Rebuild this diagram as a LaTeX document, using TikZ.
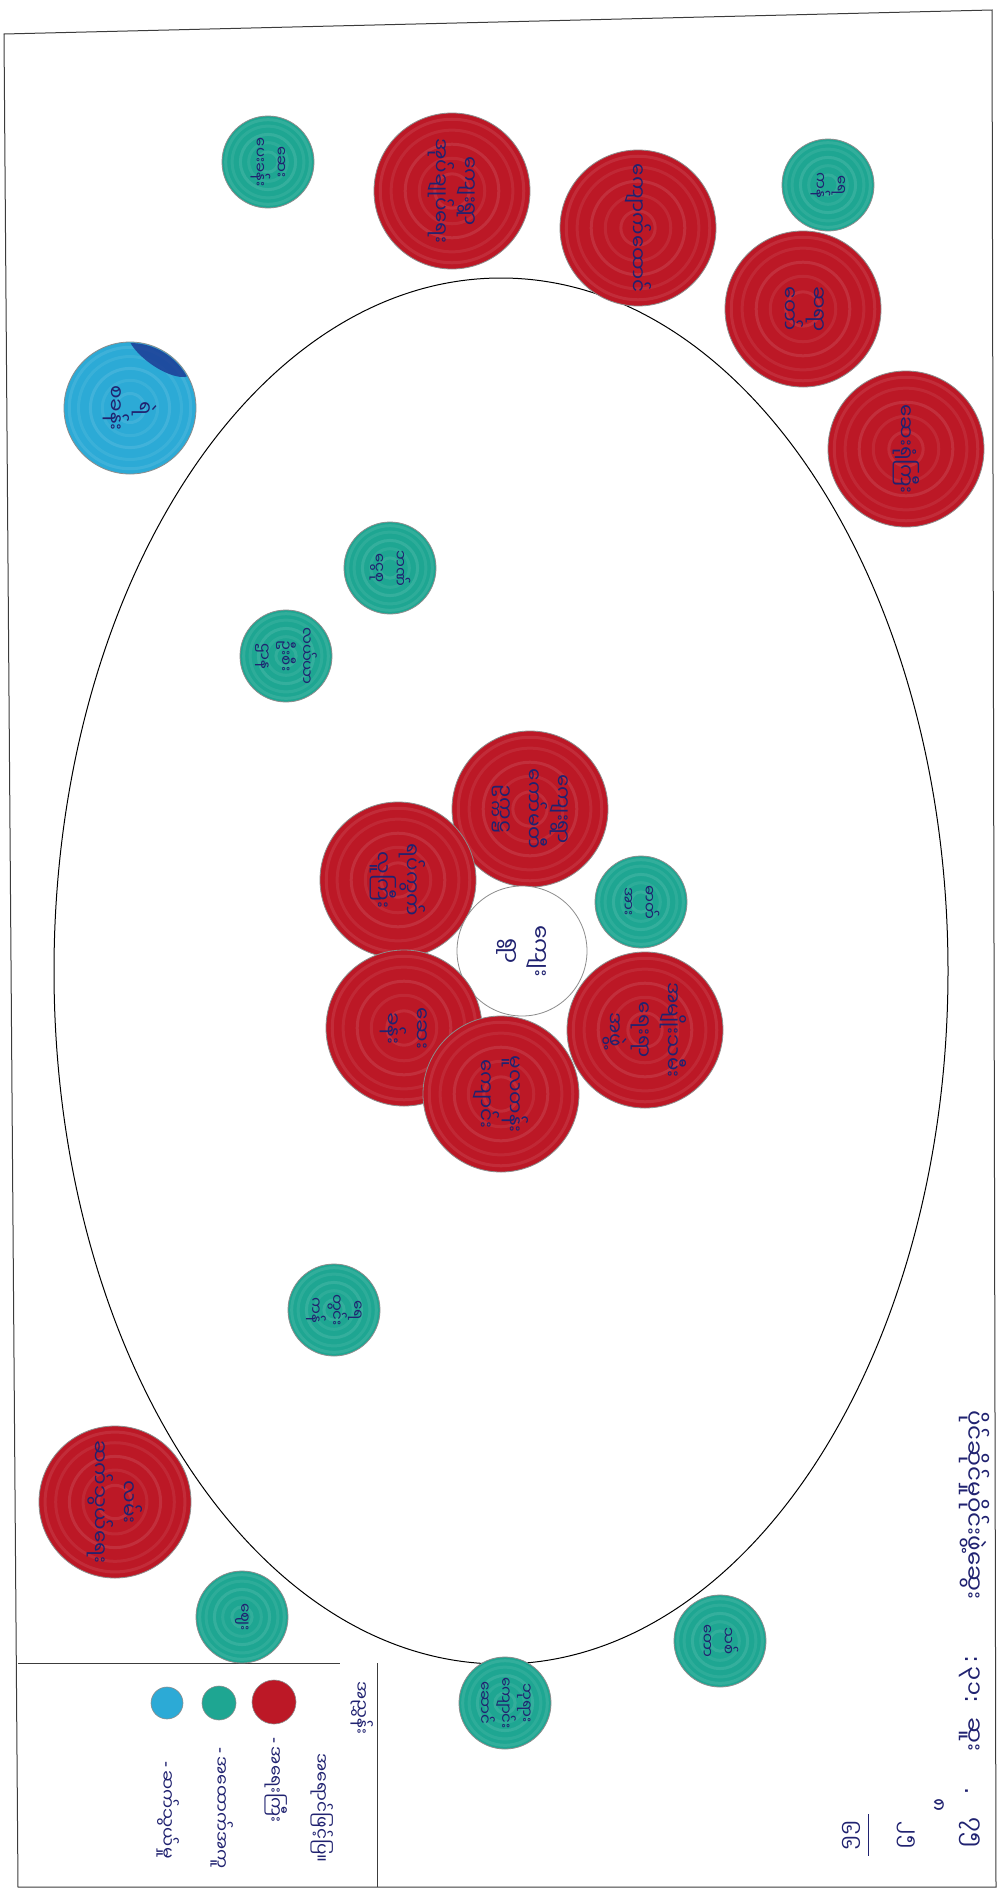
\documentclass[tikz,border=0pt]{standalone}
\usepackage{fontspec}
\newfontfamily\mm[Script=Myanmar]{Noto Sans Myanmar UI}
\newfontfamily\dvfont{DejaVu Sans}
\newcommand\mmpunct[1]{{\dvfont #1}}
\definecolor{crayred}{RGB}{188,24,38}
\definecolor{crayteal}{RGB}{30,166,146}
\definecolor{crayblue}{RGB}{44,170,214}
\definecolor{patchblue}{RGB}{28,60,150}
\definecolor{pen}{RGB}{32,34,112}
\definecolor{pencil}{RGB}{140,140,140}
\definecolor{inkline}{RGB}{60,60,60}
\begin{document}
\begin{tikzpicture}[x=1pt,y=-1pt,
  disc/.style={circle, inner sep=0pt, draw=pencil, line width=0.8pt, text=pen,
    align=center, rotate=-90, font=\mm\fontsize{20}{29}\selectfont,
    path picture={\foreach \k/\o in {0.22/0.09,0.42/0.07,0.6/0.10,0.78/0.07,0.92/0.09}{\draw[white,opacity=\o,line width=3pt] (path picture bounding box.center) circle[radius=\k*\pgfkeysvalueof{/pgf/minimum width}/2];}}},
  rdisc/.style={disc, fill=crayred, minimum size=156pt},
  tdisc/.style={disc, fill=crayteal, minimum size=92pt, font=\mm\fontsize{15}{21}\selectfont},
  bdisc/.style={disc, fill=crayblue, minimum size=132pt},
  wdisc/.style={circle, inner sep=0pt, draw=pencil, line width=0.8pt, fill=white, text=pen,
    align=center, rotate=-90, minimum size=130pt, font=\mm\fontsize{22}{30}\selectfont},
  dot/.style={circle, inner sep=0pt, draw=pencil, line width=0.6pt},
  lbl/.style={text=pen, rotate=-90, inner sep=0pt, font=\mm\fontsize{17}{22}\selectfont}
]
\useasboundingbox (0,0) rectangle (1000,1893);
\fill[white] (0,0) rectangle (1000,1893);
% page frame
\draw[inkline, line width=1pt] (4,34) -- (992,10) -- (996,1887) -- (18,1887) -- cycle;
% legend frame
\draw[inkline, line width=1pt] (18,1663) -- (340,1663);
\draw[inkline, line width=1pt] (377,1663) -- (377,1887);
% big ellipse
\draw[black, line width=1pt] (501,971) ellipse[x radius=447, y radius=693];

% outer circles (top)
\node[tdisc] (t1) at (268,162) {ဆေး\\ပေးခန်း};
\node[rdisc] (r2) at (452,191) {ကျေးရွာ\\အုပ်ချုပ်ရေး};
\node[rdisc] (r3) at (638,228) {ကျောက်ထောင်};
\node[tdisc] (t4) at (828,185) {ရေ\\ကန်};
\node[rdisc] (r5) at (803,309) {ဆရာ\\တော်};
\node[rdisc] (r6) at (906,449) {ဆေးရုံကြီး};
\node[bdisc] (b7) at (130,408) {ရဲ\\စခန်း};
\begin{scope}
\clip (130,408) circle[radius=65];
\fill[patchblue, opacity=0.85, rotate around={-35:(160,352)}] (160,352) ellipse[x radius=38, y radius=15];
\end{scope}

% inside
\node[tdisc] (t8) at (390,568) {ဘဏ်\\ငွေစု};
\node[tdisc] (t9) at (286,656) {လယ်ယာ\\ဦးစီး\\ဌာန};

% central cluster
\node[rdisc] (r10) at (530,809) {ကျေးရွာ\\ကော်မတီ\\ဥက္ကဋ္ဌ};
\node[rdisc] (r11) at (398,880) {ရပ်ကွက်\\လူကြီး};
\node[wdisc] (c) at (522,951) {ကျေး\\ရွာ};
\node[tdisc] (t13) at (641,902) {ဓာတ်\\အား};
\node[rdisc] (r14) at (645,1030) {အမျိုးသမီး\\ရေးရာ\\အဖွဲ့};
\node[rdisc] (r15) at (404,1028) {ဆေး\\ခန်း};
\node[rdisc] (r16) at (501,1094) {မူလတန်း\\ကျောင်း};

\node[tdisc] (t17) at (334,1310) {ရေ\\တွင်း\\ကန်};

% bottom outside
\node[rdisc, minimum size=152pt] (r18) at (115,1502) {လမ်း\\ဆက်သွယ်ရေး};
\node[tdisc] (t19) at (242,1617) {ဈေး};
\node[tdisc] (t20) at (505,1703) {ဘုရား\\ကျောင်း\\ဆောင်};
\node[tdisc] (t21) at (720,1641) {သစ်\\တော};

% legend
\node[lbl] (ltitle) at (362,1708) {အညွှန်း};
\node[lbl] (lsub) at (322,1808) {အရောင်ဖြင့်ပြ။};
\node[dot, fill=crayred, minimum size=44pt] (dr) at (274,1702) {};
\node[dot, fill=crayteal, minimum size=34pt] (dt) at (219,1703) {};
\node[dot, fill=crayblue, minimum size=32pt] (db) at (167,1703) {};
\node[lbl] (lr) at (276,1780) {\mmpunct{-}\,အရေးကြီး};
\node[lbl] (lt) at (222,1808) {\mmpunct{-}\,အထောက်အကူ};
\node[lbl] (lb) at (168,1810) {\mmpunct{-}\,ဆက်သွယ်မှု};

% bottom right note
\node[lbl, anchor=west, font=\mm\fontsize{23}{28}\selectfont] (note) at (974,1410) {\makebox[245pt][l]{ပိုင်ဆိုင်မှုဝိုင်းဖွဲ့ဆွေး}\makebox[62pt][l]{\mmpunct{:}\,၃၁\mmpunct{:}}\makebox[70pt][l]{ဆူး}\makebox[30pt][l]{\mmpunct{.}}၇၅};
\node[lbl, font=\mm\fontsize{20}{26}\selectfont] (n8) at (938,1805) {၈};
\node[lbl, font=\mm\fontsize{20}{26}\selectfont] (n25) at (906,1835) {၂၅};
\node[lbl, font=\mm\fontsize{20}{26}\selectfont] (n66) at (850,1835) {၆၆};
\coordinate (fa) at (868,1814);
\coordinate (fb) at (868,1856);
\draw[pen, line width=1pt] (fa) -- (fb);
\end{tikzpicture}
\end{document}
